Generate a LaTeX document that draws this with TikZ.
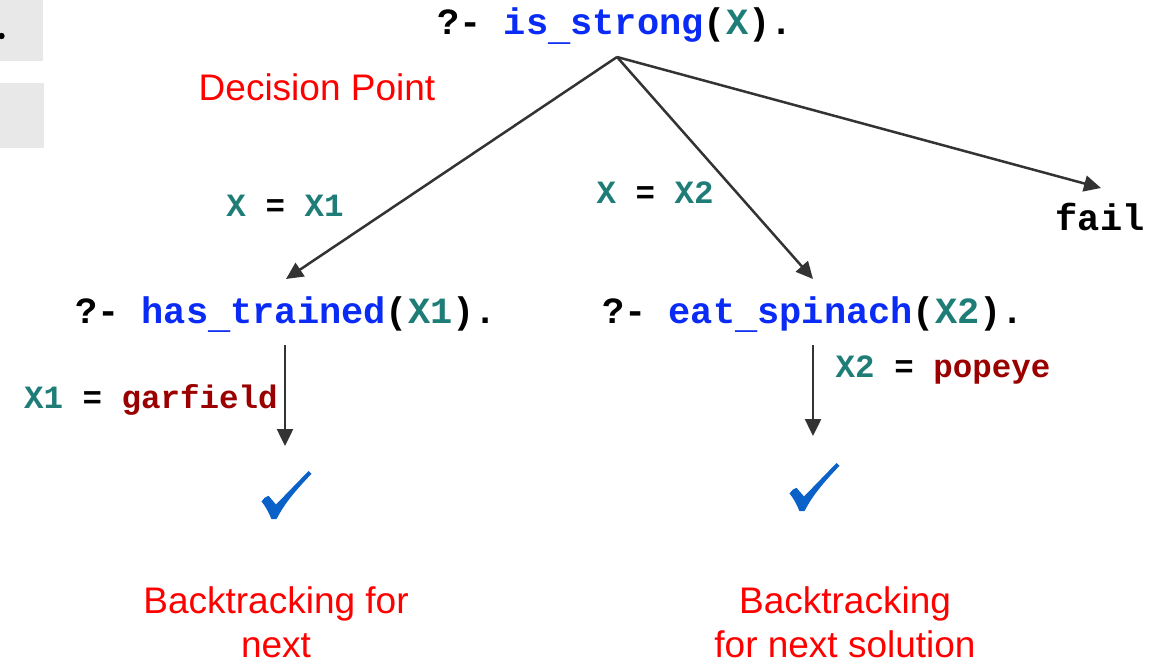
\documentclass[tikz,border=0pt]{standalone}
\usepackage{fontspec}
\usetikzlibrary{arrows.meta}
\newfontfamily\codefont{Liberation Mono}
\newfontfamily\notefont{Liberation Sans}
\definecolor{predblue}{HTML}{0A2BF5}
\definecolor{vteal}{HTML}{1F7D78}
\definecolor{atomred}{HTML}{9A0000}
\definecolor{notered}{HTML}{FF0000}
\definecolor{edgegray}{HTML}{333333}
\definecolor{checkblue}{HTML}{0A62C9}
\definecolor{panelgray}{HTML}{E8E8E8}
% underscore set low, as in Courier
\newcommand{\lowbar}{\makebox[0.6em]{\raisebox{-0.16em}{\_}}}
\tikzset{
  goal/.style={anchor=base, inner sep=0pt, font=\codefont\bfseries\fontsize{37}{44}\selectfont},
  binding/.style={anchor=base, inner sep=0pt, font=\codefont\bfseries\fontsize{32.5}{39}\selectfont},
  note/.style={anchor=base, inner sep=0pt, text=notered, align=center, font=\notefont\fontsize{37}{44}\selectfont},
  edge/.style={draw=edgegray, line width=2.5pt, -{Triangle[length=17pt,width=16pt]}},
  tick/.style={fill=checkblue, draw=none}
}
\begin{document}
\begin{tikzpicture}[x=1pt,y=-1pt]
\useasboundingbox (0,0) rectangle (1166,671);
% side panels
\fill[panelgray] (0,0) rectangle (43,61);
\fill[panelgray] (0,83) rectangle (44,148);
\fill[black] (1.5,36) circle (3.2);

% goals
\node[goal] (root) at (615,35) {?- \textcolor{predblue}{is\lowbar strong}(\textcolor{vteal}{X}).};
\node[goal] (trained) at (286,323) {?- \textcolor{predblue}{has\lowbar trained}(\textcolor{vteal}{X1}).};
\node[goal] (spinach) at (813,323) {?- \textcolor{predblue}{eat\lowbar spinach}(\textcolor{vteal}{X2}).};
\node[goal] (fail) at (1100,230) {fail};

% annotations (base = baseline of the last line)
\node[note] (decision) at (317,101) {Decision Point};
\node[note] (backL) at (276,657) {Backtracking for\\next};
\node[note] (backR) at (845,657) {Backtracking\\for next solution};

% bindings
\node[binding] (bx1) at (285,216) {\textcolor{vteal}{X} = \textcolor{vteal}{X1}};
\node[binding] (bx2) at (655,204) {\textcolor{vteal}{X} = \textcolor{vteal}{X2}};
\node[binding] (bgar) at (151,408) {\textcolor{vteal}{X1} = \textcolor{atomred}{garfield}};
\node[binding] (bpop) at (943,377) {\textcolor{vteal}{X2} = \textcolor{atomred}{popeye}};

% edge end points
\coordinate (apex) at (617,57);
\coordinate (tipL) at (286,279);
\coordinate (tipM) at (813,279);
\coordinate (tipR) at (1101,188);
\coordinate (startL) at (285,345);
\coordinate (endL) at (285,446);
\coordinate (startR) at (813,345);
\coordinate (endR) at (813,436);

\draw[edge] (apex) -- (tipL);
\draw[edge] (apex) -- (tipM);
\draw[edge] (apex) -- (tipR);
\draw[edge] (startL) -- (endL);
\draw[edge] (startR) -- (endR);

% success ticks
\foreach \ox/\oy/\nm in {230/440/tickL, 758/432/tickR}{
  \begin{scope}[shift={(\ox,\oy)}]
    \fill[tick] (31.5,61.5) .. controls (33,58.5) and (36,56.5) .. (38.5,55.8)
      -- (46,64.5) -- (78.5,31) -- (81.5,33.8)
      .. controls (66,50) and (54,64) .. (46.5,79.2)
      -- (41.5,79.2) .. controls (38.5,72) and (35,65.5) .. cycle;
    \coordinate (\nm) at (56,55);
  \end{scope}
}
\end{tikzpicture}
\end{document}
